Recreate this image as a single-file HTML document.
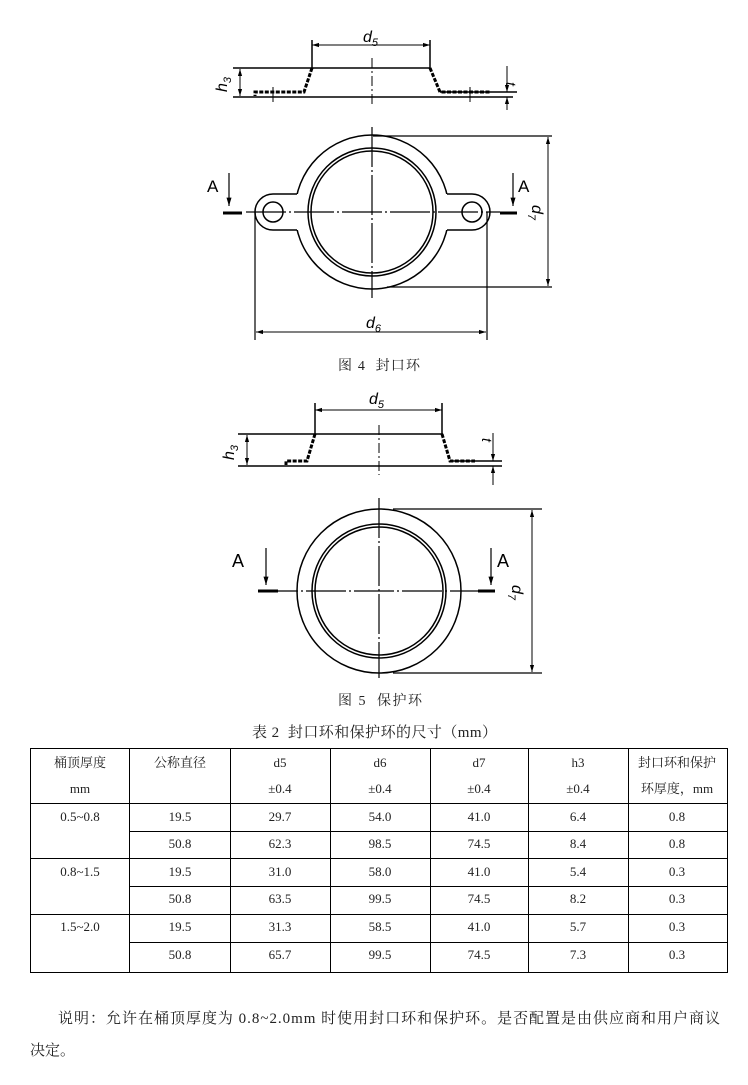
<!DOCTYPE html>
<html><head><meta charset="utf-8"><style>
body{margin:0;background:#fff;}
svg{display:block}
.c{font-family:"Liberation Serif","Noto Serif CJK SC","Noto Sans CJK SC",serif;fill:#222;}
.l{font-family:"Liberation Sans",sans-serif;fill:#000;}
</style></head><body>
<svg width="748" height="1085" viewBox="0 0 748 1085" xmlns="http://www.w3.org/2000/svg">
<defs>
<marker id="ar" viewBox="0 0 10 10" refX="10" refY="5" markerWidth="7" markerHeight="7" orient="auto-start-reverse"><path d="M0,2 L10,5 L0,8z" fill="#000"/></marker>
</defs>
<g stroke="#000" fill="none" stroke-width="1.5">
<!-- FIG 4 profile -->
<line x1="233" y1="68" x2="430" y2="68"/>
<line x1="233" y1="97" x2="513" y2="97"/>
<line x1="440" y1="92" x2="517" y2="92"/>
<path d="M312,68 L304,92 L255,92 L255,96" stroke-width="3" stroke-dasharray="4 1.5"/>
<path d="M430,68 L440,92 L490,92" stroke-width="3" stroke-dasharray="4 1.5"/>
<line x1="312" y1="40" x2="312" y2="68"/>
<line x1="430" y1="40" x2="430" y2="68"/>
<line x1="312" y1="45" x2="430" y2="45" stroke-width="1" marker-start="url(#ar)" marker-end="url(#ar)"/>
<line x1="372" y1="58" x2="372" y2="104" stroke-width="1" stroke-dasharray="10 3 2 3"/>
<line x1="273" y1="87" x2="273" y2="102" stroke-width="1"/>
<line x1="470" y1="87" x2="470" y2="102" stroke-width="1"/>
<line x1="240" y1="69" x2="240" y2="96" stroke-width="1" marker-start="url(#ar)" marker-end="url(#ar)"/>
<line x1="507" y1="66" x2="507" y2="92" stroke-width="1" marker-end="url(#ar)"/>
<line x1="507" y1="110" x2="507" y2="97" stroke-width="1" marker-end="url(#ar)"/>
<!-- FIG 4 plan -->
<circle cx="372" cy="212" r="77"/>
<path d="M300,194 L273,194 A18,18 0 0 0 273,230 L300,230 Z" fill="#fff" stroke="none"/>
<path d="M444,194 L472,194 A18,18 0 0 1 472,230 L444,230 Z" fill="#fff" stroke="none"/>
<path d="M297,194 L273,194 A18,18 0 0 0 273,230 L297,230"/>
<path d="M447,194 L472,194 A18,18 0 0 1 472,230 L447,230"/>
<circle cx="372" cy="212" r="64"/>
<circle cx="372" cy="212" r="61"/>
<circle cx="273" cy="212" r="10"/>
<circle cx="472" cy="212" r="10"/>
<line x1="372" y1="127" x2="372" y2="298" stroke-width="1.2" stroke-dasharray="40 3 2 3"/>
<line x1="246" y1="212" x2="500" y2="212" stroke-width="1.2" stroke-dasharray="40 3 2 3"/>
<line x1="373" y1="136" x2="552" y2="136" stroke-width="1.2"/>
<line x1="387" y1="287" x2="552" y2="287" stroke-width="1.2"/>
<line x1="548" y1="137" x2="548" y2="286" stroke-width="1" marker-start="url(#ar)" marker-end="url(#ar)"/>
<line x1="255" y1="212" x2="255" y2="340" stroke-width="1.2"/>
<line x1="487" y1="212" x2="487" y2="340" stroke-width="1.2"/>
<line x1="256" y1="332" x2="486" y2="332" stroke-width="1" marker-start="url(#ar)" marker-end="url(#ar)"/>
<line x1="229" y1="173" x2="229" y2="206" stroke-width="1.2" marker-end="url(#ar)"/>
<line x1="223" y1="213" x2="242" y2="213" stroke-width="3"/>
<line x1="513" y1="173" x2="513" y2="206" stroke-width="1.2" marker-end="url(#ar)"/>
<line x1="500" y1="213" x2="517" y2="213" stroke-width="3"/>
<!-- FIG 5 profile -->
<line x1="238" y1="434" x2="443" y2="434"/>
<line x1="238" y1="466" x2="502" y2="466"/>
<line x1="453" y1="461" x2="502" y2="461"/>
<path d="M315,434 L307,461 L286,461 L286,465" stroke-width="3" stroke-dasharray="4 1.5"/>
<path d="M442,434 L450,461 L475,461" stroke-width="3" stroke-dasharray="4 1.5"/>
<line x1="315" y1="403" x2="315" y2="434"/>
<line x1="442" y1="403" x2="442" y2="434"/>
<line x1="315" y1="410" x2="442" y2="410" stroke-width="1" marker-start="url(#ar)" marker-end="url(#ar)"/>
<line x1="379" y1="425" x2="379" y2="475" stroke-width="1" stroke-dasharray="10 3 2 3"/>
<line x1="247" y1="435" x2="247" y2="465" stroke-width="1" marker-start="url(#ar)" marker-end="url(#ar)"/>
<line x1="493" y1="433" x2="493" y2="461" stroke-width="1" marker-end="url(#ar)"/>
<line x1="493" y1="485" x2="493" y2="466" stroke-width="1" marker-end="url(#ar)"/>
<!-- FIG 5 plan -->
<circle cx="379" cy="591" r="82"/>
<circle cx="379" cy="591" r="67"/>
<circle cx="379" cy="591" r="64"/>
<line x1="379" y1="498" x2="379" y2="678" stroke-width="1.2" stroke-dasharray="40 3 2 3"/>
<line x1="258" y1="591" x2="495" y2="591" stroke-width="1.2" stroke-dasharray="40 3 2 3"/>
<line x1="393" y1="509" x2="542" y2="509" stroke-width="1.2"/>
<line x1="393" y1="673" x2="542" y2="673" stroke-width="1.2"/>
<line x1="532" y1="510" x2="532" y2="672" stroke-width="1" marker-start="url(#ar)" marker-end="url(#ar)"/>
<line x1="266" y1="548" x2="266" y2="585" stroke-width="1.2" marker-end="url(#ar)"/>
<line x1="258" y1="591" x2="278" y2="591" stroke-width="3"/>
<line x1="491" y1="548" x2="491" y2="585" stroke-width="1.2" marker-end="url(#ar)"/>
<line x1="478" y1="591" x2="495" y2="591" stroke-width="3"/>
</g>
<!-- labels -->
<g class="l" font-size="16">
<text x="363" y="42" font-style="italic">d<tspan font-size="11" dy="4">5</tspan></text>
<text x="227" y="92" font-style="italic" transform="rotate(-90 227 92)">h<tspan font-size="11" dy="4">3</tspan></text>
<text x="506" y="82" font-style="italic" font-size="14" transform="rotate(90 506 82)">t</text>
<text x="207" y="192" font-size="17">A</text>
<text x="518" y="192" font-size="17">A</text>
<text x="532" y="205" font-style="italic" transform="rotate(90 532 205)">d<tspan font-size="11" dy="4">7</tspan></text>
<text x="366" y="328" font-style="italic">d<tspan font-size="11" dy="4">6</tspan></text>
<text x="369" y="404" font-style="italic">d<tspan font-size="11" dy="4">5</tspan></text>
<text x="234" y="460" font-style="italic" transform="rotate(-90 234 460)">h<tspan font-size="11" dy="4">3</tspan></text>
<text x="482" y="438" font-style="italic" font-size="14" transform="rotate(90 482 438)">t</text>
<text x="232" y="567" font-size="18">A</text>
<text x="497" y="567" font-size="18">A</text>
<text x="512" y="585" font-style="italic" transform="rotate(90 512 585)">d<tspan font-size="11" dy="4">7</tspan></text>
</g>
<g class="c" font-size="14">
<text x="338" y="370" textLength="82">图 4&#160;&#160;封口环</text>
<text x="338" y="705" textLength="84">图 5&#160;&#160;保护环</text>
<text x="252" y="737" font-size="15" textLength="245">表 2&#160;&#160;封口环和保护环的尺寸（mm）</text>
<text x="58" y="1023" font-size="15" textLength="662">说明：允许在桶顶厚度为 0.8~2.0mm 时使用封口环和保护环。是否配置是由供应商和用户商议</text>
<text x="30" y="1055" font-size="15">决定。</text>
</g>
<!-- table -->
<g stroke="#000" stroke-width="1">
<rect x="30.5" y="748.5" width="697" height="224" fill="none"/>
<line x1="129.5" y1="748" x2="129.5" y2="972"/>
<line x1="230.5" y1="748" x2="230.5" y2="972"/>
<line x1="330.5" y1="748" x2="330.5" y2="972"/>
<line x1="430.5" y1="748" x2="430.5" y2="972"/>
<line x1="528.5" y1="748" x2="528.5" y2="972"/>
<line x1="628.5" y1="748" x2="628.5" y2="972"/>
<line x1="30" y1="803.5" x2="727" y2="803.5"/>
<line x1="129" y1="831.5" x2="727" y2="831.5"/>
<line x1="30" y1="858.5" x2="727" y2="858.5"/>
<line x1="129" y1="886.5" x2="727" y2="886.5"/>
<line x1="30" y1="914.5" x2="727" y2="914.5"/>
<line x1="129" y1="942.5" x2="727" y2="942.5"/>
</g>
<g class="c" font-size="13" text-anchor="middle">
<text x="80" y="767">桶顶厚度</text><text x="80" y="793">mm</text>
<text x="180" y="767">公称直径</text>
<text x="280" y="767">d5</text><text x="280" y="793">±0.4</text>
<text x="380" y="767">d6</text><text x="380" y="793">±0.4</text>
<text x="479" y="767">d7</text><text x="479" y="793">±0.4</text>
<text x="578" y="767">h3</text><text x="578" y="793">±0.4</text>
<text x="677" y="767">封口环和保护</text><text x="677" y="793">环厚度，mm</text>
<text x="80" y="821">0.5~0.8</text>
<text x="80" y="876">0.8~1.5</text>
<text x="80" y="931">1.5~2.0</text>
<text x="180" y="821">19.5</text><text x="280" y="821">29.7</text><text x="380" y="821">54.0</text><text x="479" y="821">41.0</text><text x="578" y="821">6.4</text><text x="677" y="821">0.8</text>
<text x="180" y="848">50.8</text><text x="280" y="848">62.3</text><text x="380" y="848">98.5</text><text x="479" y="848">74.5</text><text x="578" y="848">8.4</text><text x="677" y="848">0.8</text>
<text x="180" y="876">19.5</text><text x="280" y="876">31.0</text><text x="380" y="876">58.0</text><text x="479" y="876">41.0</text><text x="578" y="876">5.4</text><text x="677" y="876">0.3</text>
<text x="180" y="903">50.8</text><text x="280" y="903">63.5</text><text x="380" y="903">99.5</text><text x="479" y="903">74.5</text><text x="578" y="903">8.2</text><text x="677" y="903">0.3</text>
<text x="180" y="931">19.5</text><text x="280" y="931">31.3</text><text x="380" y="931">58.5</text><text x="479" y="931">41.0</text><text x="578" y="931">5.7</text><text x="677" y="931">0.3</text>
<text x="180" y="959">50.8</text><text x="280" y="959">65.7</text><text x="380" y="959">99.5</text><text x="479" y="959">74.5</text><text x="578" y="959">7.3</text><text x="677" y="959">0.3</text>
</g>
</svg>
</body></html>
